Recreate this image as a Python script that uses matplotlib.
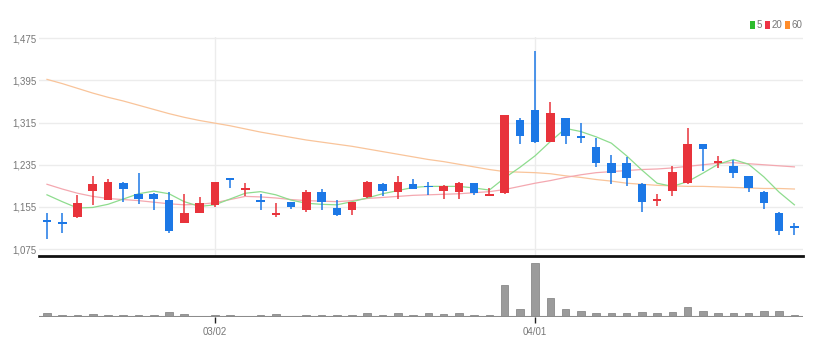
import matplotlib
matplotlib.use('Agg')
import matplotlib.pyplot as plt
from matplotlib.patches import Rectangle
import numpy as np

# ---- data ----
opens = [1129, 1125, 1135, 1186, 1168, 1200, 1179, 1179, 1168, 1125,
         1144, 1159, 1209, 1187, 1168, 1140, 1164, 1150, 1184, 1153,
         1150, 1174, 1199, 1184, 1199, 1193, 1186, 1184, 1200, 1175,
         1181, 1320, 1339, 1279, 1323, 1289, 1268, 1239, 1239, 1199,
         1167, 1186, 1200, 1274, 1239, 1233, 1213, 1184, 1144, 1118]
highs = [1144, 1144, 1178, 1214, 1208, 1203, 1220, 1182, 1184, 1180,
         1173, 1203, 1209, 1200, 1179, 1163, 1165, 1187, 1189, 1168,
         1165, 1204, 1200, 1213, 1208, 1203, 1197, 1203, 1200, 1190,
         1330, 1323, 1450, 1355, 1323, 1314, 1285, 1254, 1249, 1201,
         1180, 1232, 1304, 1275, 1252, 1244, 1213, 1185, 1145, 1124]
lows = [1095, 1105, 1134, 1159, 1168, 1165, 1160, 1150, 1105, 1124,
        1143, 1154, 1190, 1176, 1150, 1135, 1151, 1145, 1150, 1137,
        1140, 1172, 1176, 1170, 1189, 1178, 1170, 1170, 1177, 1175,
        1180, 1275, 1276, 1278, 1275, 1276, 1230, 1199, 1194, 1145,
        1156, 1175, 1199, 1224, 1229, 1210, 1184, 1151, 1101, 1101]
closes = [1127, 1123, 1163, 1199, 1203, 1189, 1170, 1170, 1110, 1144,
          1163, 1202, 1206, 1191, 1165, 1142, 1154, 1184, 1165, 1139,
          1164, 1203, 1186, 1203, 1189, 1192, 1195, 1200, 1181, 1180,
          1330, 1290, 1279, 1334, 1290, 1285, 1239, 1220, 1210, 1165,
          1169, 1222, 1274, 1265, 1242, 1219, 1191, 1162, 1110, 1115]
volumes = [40, 20, 20, 27, 20, 20, 20, 20, 43, 27,
           13, 20, 20, 13, 20, 27, 10, 20, 20, 20,
           20, 40, 20, 40, 17, 40, 27, 40, 20, 20,
           317, 73, 527, 190, 73, 53, 40, 40, 33, 50,
           33, 50, 100, 57, 40, 40, 40, 53, 60, 23]
ma5 = [1178, 1165, 1153, 1154, 1160, 1170, 1180, 1185, 1180, 1165,
       1156, 1159, 1170, 1181, 1184, 1178, 1168, 1162, 1160, 1159,
       1165, 1172, 1180, 1186, 1192, 1194, 1194, 1194, 1191, 1187,
       1210, 1230, 1252, 1279, 1304, 1298, 1288, 1276, 1252, 1225,
       1200, 1194, 1203, 1219, 1236, 1245, 1236, 1212, 1183, 1159]
ma20 = [1198, 1189, 1181, 1175, 1171, 1169, 1167, 1164, 1161, 1159,
        1160, 1163, 1169, 1175, 1174, 1172, 1169, 1167, 1166, 1165,
        1167, 1171, 1173, 1175, 1177, 1178, 1179, 1180, 1182, 1184,
        1188, 1194, 1200, 1205, 1211, 1216, 1220, 1222, 1224, 1226,
        1227, 1229, 1232, 1235, 1238, 1239, 1237, 1235, 1233, 1231]
ma60 = [1397, 1389, 1380, 1371, 1363, 1356, 1348, 1340, 1332, 1325,
        1319, 1314, 1309, 1303, 1297, 1292, 1287, 1282, 1278, 1274,
        1270, 1265, 1260, 1255, 1250, 1245, 1241, 1236, 1231, 1226,
        1222, 1221, 1220, 1218, 1214, 1211, 1207, 1204, 1200, 1198,
        1196, 1195, 1194, 1194, 1193, 1192, 1191, 1190, 1190, 1189]
price_ticks = [1075, 1155, 1235, 1315, 1395, 1475]
date_pos = [11, 32]
date_labels = ['03/02', '04/01']
legend_labels = ['5', '20', '60']

# ---- styling ----
RED = '#e8333b'
BLUE = '#1c78e6'
FONT = ['Liberation Sans Narrow', 'Liberation Sans', 'DejaVu Sans']
TXT = '#777777'

W, H = 820, 356
fig = plt.figure(figsize=(W / 100, H / 100), dpi=100)
ax = fig.add_axes([0.048, 0.281, 0.931, 0.616])
axv = fig.add_axes([0.048, 0.110, 0.931, 0.165])

x = np.arange(len(closes))
o = np.array(opens, float)
c = np.array(closes, float)
h = np.array(highs, float)
l = np.array(lows, float)
cols = [RED if cc >= oo else BLUE for oo, cc in zip(o, c)]

ax.plot(x, ma60, color='#f9c49a', lw=0.9, zorder=2)
ax.plot(x, ma20, color='#f4a8b0', lw=0.9, zorder=2)
ax.plot(x, ma5, color='#8edc8e', lw=0.9, zorder=2)
ax.vlines(x, l, h, colors=cols, lw=1.1, zorder=3)
ax.bar(x, np.maximum(np.abs(c - o), 2.6), bottom=np.minimum(o, c), width=0.56,
       color=cols, zorder=4, linewidth=0)

ax.set_xlim(-0.5, 49.55)
ax.set_ylim(1062, 1478)
ax.set_yticks(price_ticks)
ax.set_yticklabels([f'{v:,}' for v in price_ticks], family=FONT, fontsize=7, color=TXT)
ax.set_xticks(date_pos)
ax.tick_params(axis='x', length=0, labelbottom=False)
ax.tick_params(axis='y', length=0, pad=2)
ax.grid(True, color='#ececec', lw=1.0, zorder=0)
ax.set_axisbelow(True)
for s in ['top', 'right', 'left']:
    ax.spines[s].set_visible(False)
ax.spines['bottom'].set_color('#111111')
ax.spines['bottom'].set_linewidth(2.0)

axv.bar(x, volumes, width=0.5, color='#9b9b9b', edgecolor='#8a8a8a', lw=0.6, zorder=2)
axv.axhline(0, color='#8c8c8c', lw=2.2, zorder=3)
axv.set_xlim(-0.5, 49.55)
axv.set_ylim(0, max(volumes) * 1.1)
axv.set_yticks([])
axv.set_xticks(date_pos)
axv.set_xticklabels(date_labels, family=FONT, fontsize=7, color=TXT)
axv.tick_params(axis='x', length=4, width=1, color='#222222', pad=3)
for s in axv.spines.values():
    s.set_visible(False)

# legend (top right): coloured square + label
leg_cols = ['#2dbb2d', '#ee3344', '#ff8c2a']
sq_px = [750, 765, 785]
for px, lab, cc in zip(sq_px, legend_labels, leg_cols):
    fig.patches.append(Rectangle((px / W, 1 - 29 / H), 5 / W, 8 / H,
                                 transform=fig.transFigure, color=cc, lw=0))
    fig.text((px + 6.5) / W, 1 - 25 / H, lab, color=TXT, fontsize=7,
             family=FONT, va='center', ha='left')

fig.savefig('out.png', dpi=100, facecolor='white')
